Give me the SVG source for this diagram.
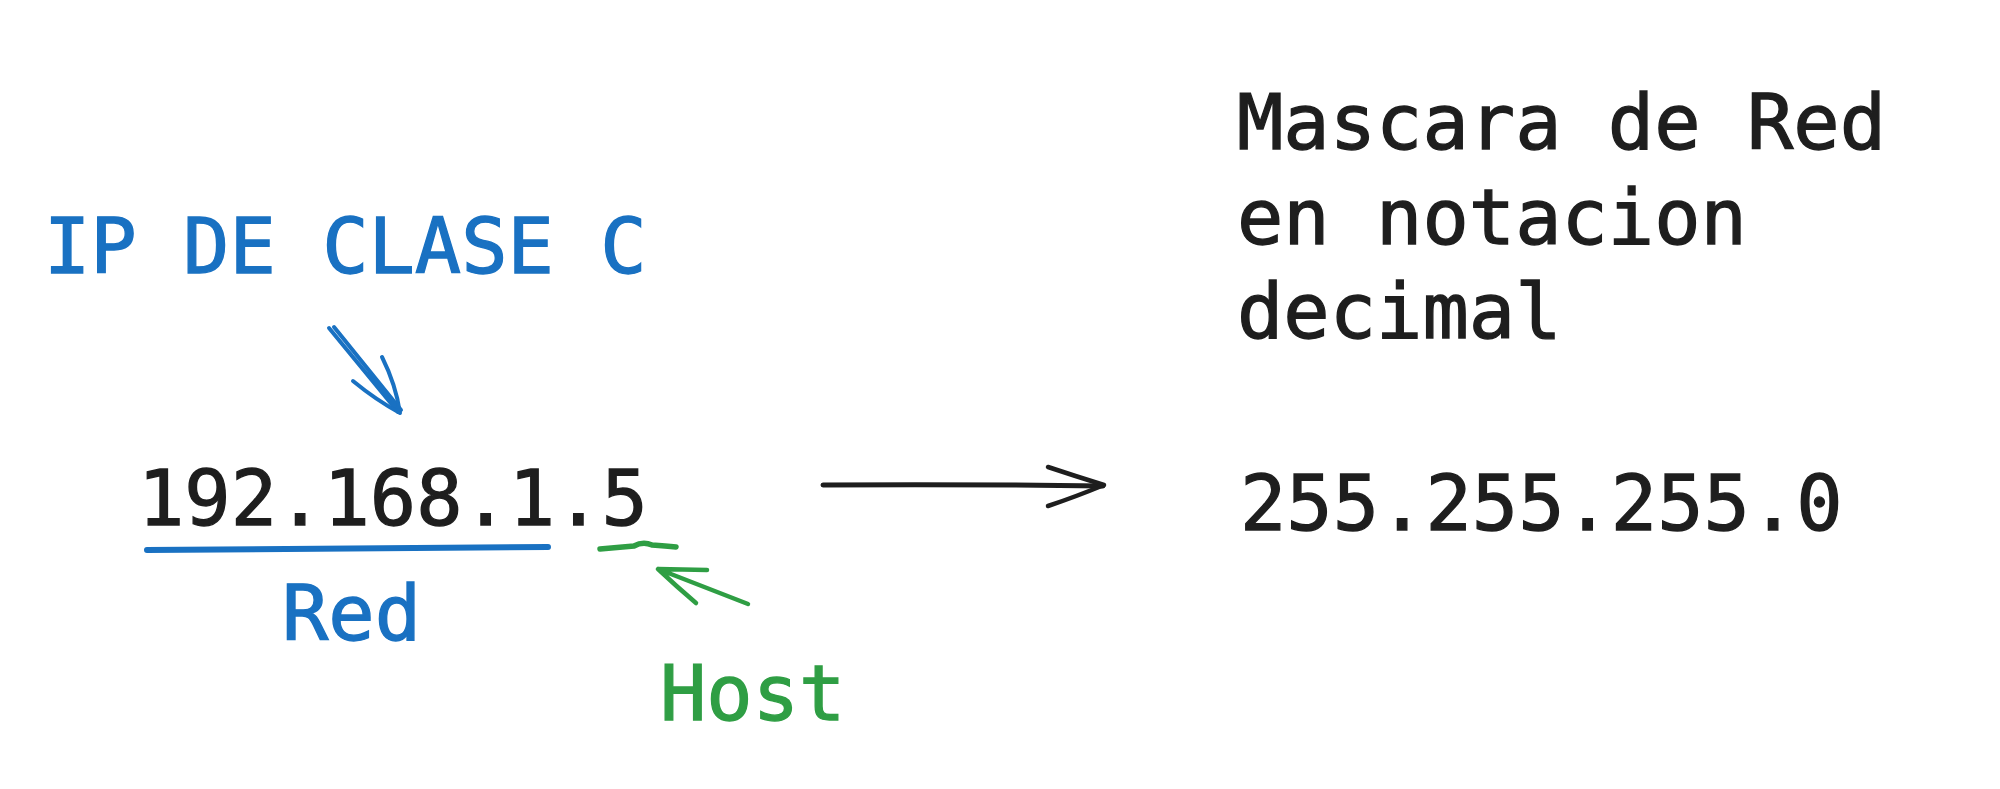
<svg xmlns="http://www.w3.org/2000/svg" width="2000" height="789" viewBox="0 0 2000 789">
<style>
text{font-family:"DejaVu Sans Mono","Liberation Mono",monospace;font-size:77px;stroke-width:1.3px}
.blue{fill:#1971c2;stroke:#1971c2}.green{fill:#2f9e44;stroke:#2f9e44}.dark{fill:#1e1e1e;stroke:#1e1e1e}
.s{fill:none;stroke-linecap:round;stroke-linejoin:round}
</style>
<rect width="2000" height="789" fill="#ffffff"/>
<g id="label-ip-clase-c"><text class="blue" x="44" y="273">IP DE CLASE C</text></g>
<g id="node-ip"><text class="dark" x="138" y="525">192.168.1.5</text></g>
<g id="label-red"><text class="blue" x="282" y="640">Red</text></g>
<g id="label-host"><text class="green" x="660" y="720">Host</text></g>
<g id="node-mascara"><text class="dark" x="1237" y="149">Mascara de Red</text><text class="dark" x="1237" y="244">en notacion</text><text class="dark" x="1237" y="338">decimal</text></g>
<g id="node-mask"><text class="dark" x="1240" y="530">255.255.255.0</text></g>
<g id="connectors">
<path class="s" stroke="#1971c2" stroke-width="4" d="M329 328 L398 412 M334 327 L401 410"/>
<path class="s" stroke="#1971c2" stroke-width="4" d="M353 381 Q376 400 400 413 M382 357 Q396 385 400 413"/>
<path class="s" stroke="#1971c2" stroke-width="6" d="M147 550 Q350 548 548 547"/>
<path class="s" stroke="#2f9e44" stroke-width="5.5" d="M600 549 Q622 547 634 546 Q643 541 652 545 Q666 546 676 547"/>
<path class="s" stroke="#2f9e44" stroke-width="4.5" d="M748 604 L658 569 M696 603 Q676 586 658 569 L707 570"/>
<path class="s" stroke="#1e1e1e" stroke-width="5" d="M823 485 Q960 484 1103 486"/>
<path class="s" stroke="#1e1e1e" stroke-width="4.5" d="M1048 467 Q1075 476 1104 485 Q1075 497 1048 506"/>
</g>
</svg>
